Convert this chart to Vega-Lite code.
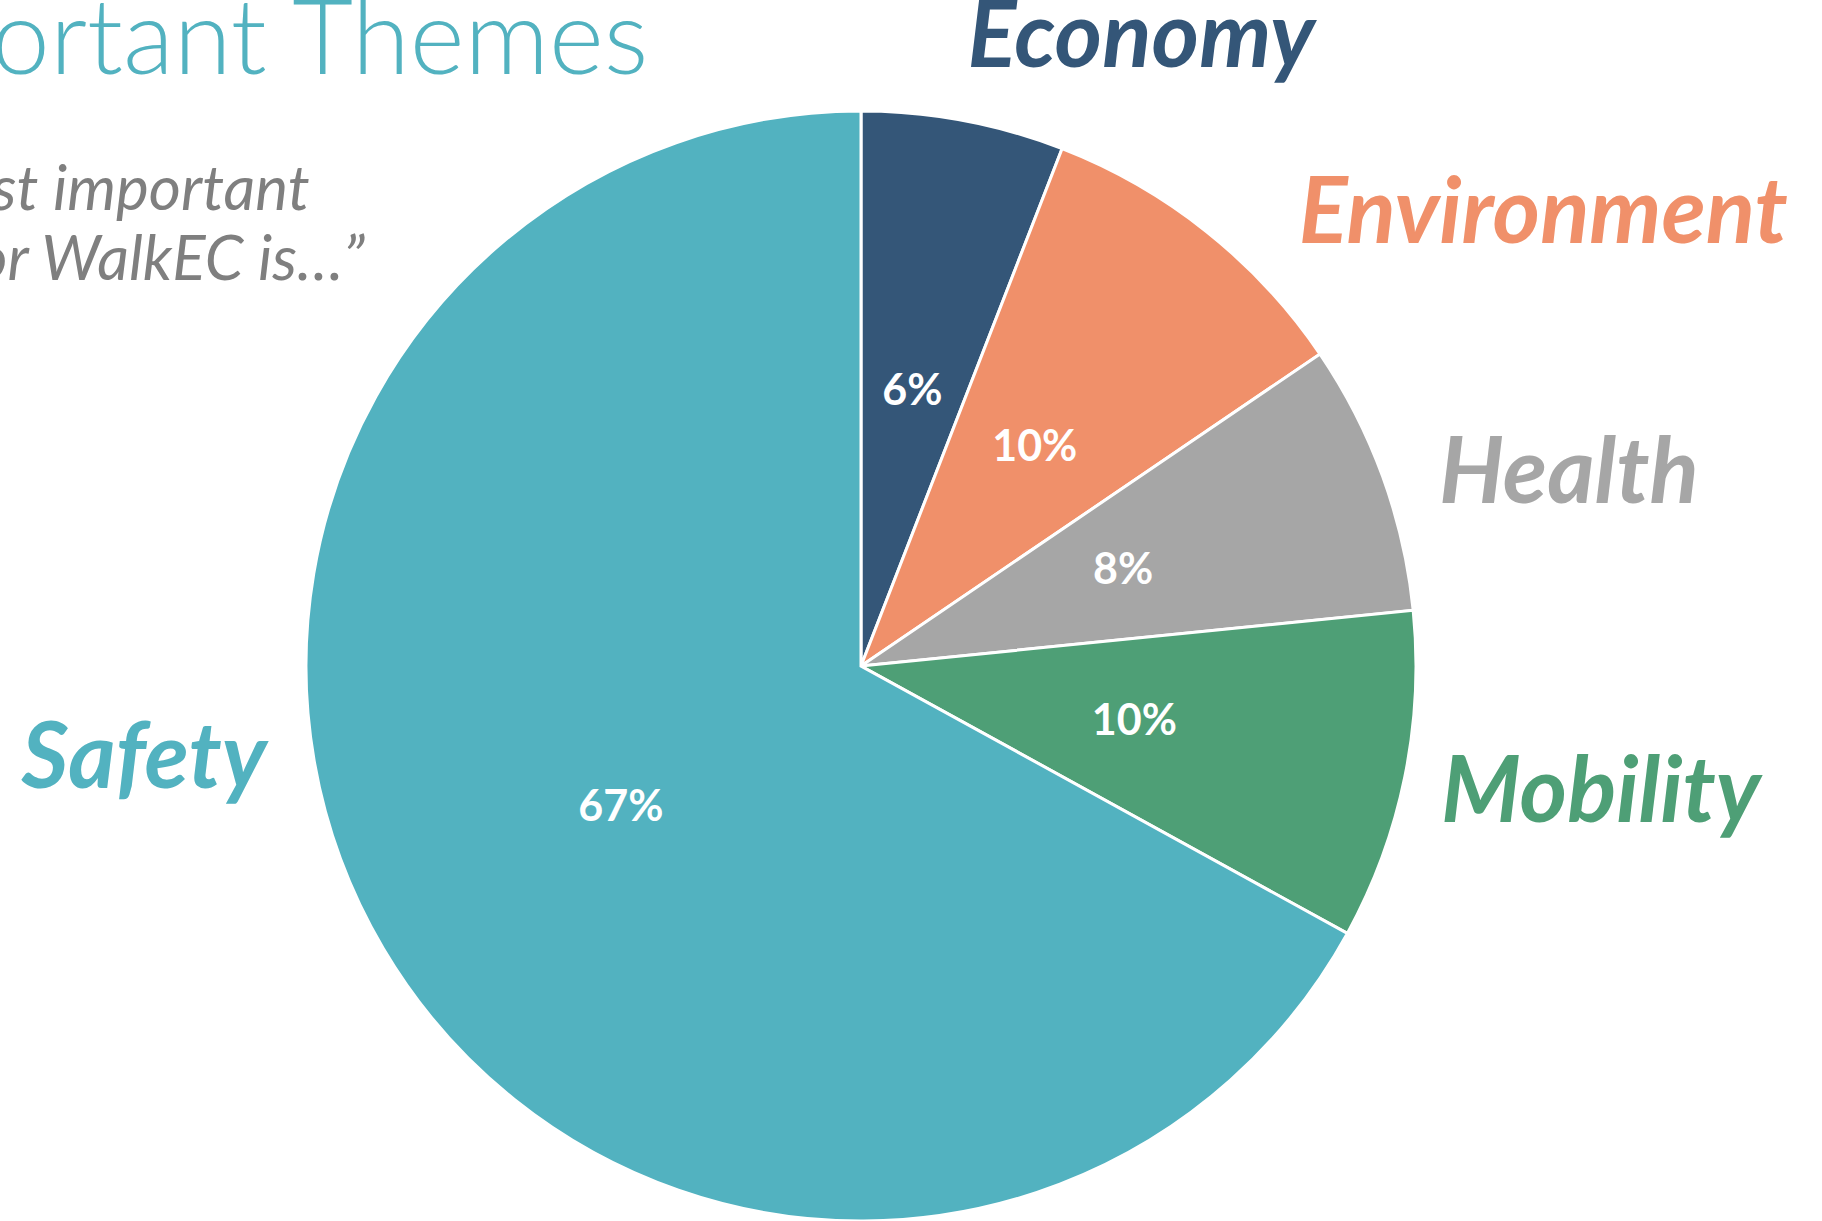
{
  "$schema": "https://vega.github.io/schema/vega-lite/v6.json",
  "width": 1722,
  "height": 1110,
  "autosize": {"type": "none"},
  "padding": {"left": 0, "top": 111, "right": 100, "bottom": 0},
  "background": "white",
  "config": {"view": {"stroke": null}},
  "title": {
    "text": "Most Important Themes",
    "subtitle": ["“The most important", "theme for WalkEC is…”"],
    "anchor": "start",
    "frame": "group",
    "orient": "top",
    "align": "left",
    "baseline": "alphabetic",
    "font": "Lato",
    "fontSize": 105,
    "fontWeight": 300,
    "color": "#52B2C0",
    "subtitleFont": "Lato",
    "subtitleFontSize": 62,
    "subtitleFontStyle": "italic",
    "subtitleFontWeight": "normal",
    "subtitleColor": "#7F7F7F",
    "subtitleLineHeight": 70,
    "subtitlePadding": 31,
    "offset": 0,
    "dx": -439,
    "dy": 382,
    "encode": {"subtitle": {"update": {"dx": {"value": -221}}}}
  },
  "data": {
    "values": [
      {"theme": "Economy", "share": 5.9, "label": "6%"},
      {"theme": "Environment", "share": 9.6, "label": "10%"},
      {"theme": "Health", "share": 7.9, "label": "8%"},
      {"theme": "Mobility", "share": 9.6, "label": "10%"},
      {"theme": "Safety", "share": 67.0, "label": "67%"}
    ]
  },
  "encoding": {
    "theta": {"field": "share", "type": "quantitative", "stack": true},
    "order": {"field": "theme", "type": "nominal", "sort": "ascending"},
    "color": {
      "field": "theme",
      "type": "nominal",
      "scale": {
        "domain": ["Economy", "Environment", "Health", "Mobility", "Safety"],
        "range": ["#345678", "#F0906A", "#A6A6A6", "#4E9F76", "#52B2C0"]
      },
      "legend": null
    }
  },
  "layer": [
    {"mark": {"type": "arc", "stroke": "white", "strokeWidth": 3}},
    {
      "mark": {"type": "text", "radius": 279, "font": "Lato", "fontSize": 43, "fontWeight": "bold", "align": "center", "baseline": "middle"},
      "encoding": {"text": {"field": "label"}, "fill": {"value": "white"}}
    },
    {
      "mark": {
        "type": "text",
        "radius": 600,
        "font": "Lato",
        "fontSize": 91,
        "fontWeight": "bold",
        "fontStyle": "italic",
        "baseline": "alphabetic",
        "align": {"expr": "datum.theme === 'Safety' ? 'right' : 'left'"},
        "dx": {"expr": "datum.theme === 'Economy' ? -4 : datum.theme === 'Environment' ? 64 : datum.theme === 'Health' ? 14 : datum.theme === 'Mobility' ? -8 : -78"},
        "dy": {"expr": "datum.theme === 'Economy' ? -9 : datum.theme === 'Environment' ? 46 : datum.theme === 'Health' ? 42 : datum.theme === 'Mobility' ? 36 : -183"}
      },
      "encoding": {"text": {"field": "theme"}}
    }
  ]
}
